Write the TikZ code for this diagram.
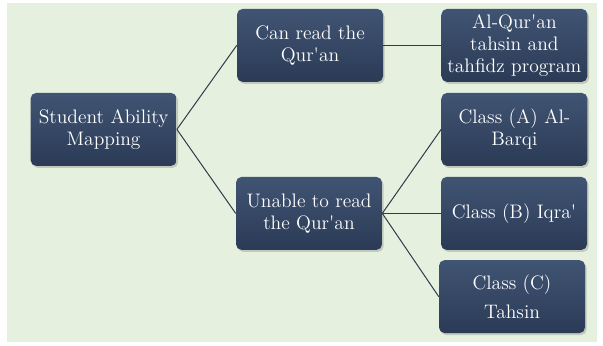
\documentclass[tikz,border=0pt]{standalone}
\usepackage{xcolor}
\usepackage{tikz}
\usetikzlibrary{shapes,calc,fit,positioning,shadows}
\definecolor{boxtop}{RGB}{64, 84, 115}
\definecolor{boxbottom}{RGB}{43, 59, 86}
\definecolor{linkline}{RGB}{46, 57, 76}
\definecolor{paper}{RGB}{229, 240, 222}
\newcommand{\apos}{\textquotesingle}
\tikzset{
	auto,semithick,
	box/.style ={rectangle, rounded corners=4pt, minimum width=3.65cm, minimum height=1.825cm,
		top color=boxtop, bottom color=boxbottom, draw=none, text=white, align=center,
		font=\fontsize{13.9}{15.6}\selectfont,
		drop shadow={opacity=0.35, shadow xshift=0.04cm, shadow yshift=-0.05cm}},
	link/.style = {draw=linkline, line width=0.7pt}
}

\begin{document}
\begin{tikzpicture}
    \useasboundingbox (0,0) rectangle (15.075,8.625);
    \fill[paper] (0.175,0.075) rectangle (14.925,8.55);

    \node[box] (map) at (2.59,5.39) {Student Ability\\Mapping};
    \node[box] (can) at (7.75,7.49) {Can read the\\Qur\apos an};
    \node[box] (prog) at (12.86,7.49) {Al-Qur\apos an\\tahsin and\\tahfidz program};
    \node[box] (unable) at (7.725,3.29) {Unable to read\\the Qur\apos an};
    \node[box] (ca) at (12.86,5.39) {Class (A) Al-\\Barqi};
    \node[box] (cb) at (12.85,3.29) {Class (B) Iqra\apos};
    \node[box] (cc) at (12.8,1.21) {Class (C)\\[5pt]Tahsin};

    \path[link] (map.east) edge (can.west);
    \path[link] (map.east) edge (unable.west);
    \path[link] (can.east) edge (prog.west);
    \path[link] (unable.east) edge (ca.west);
    \path[link] (unable.east) edge (cb.west);
    \path[link] (unable.east) edge (cc.west);

\end{tikzpicture}
\end{document}
